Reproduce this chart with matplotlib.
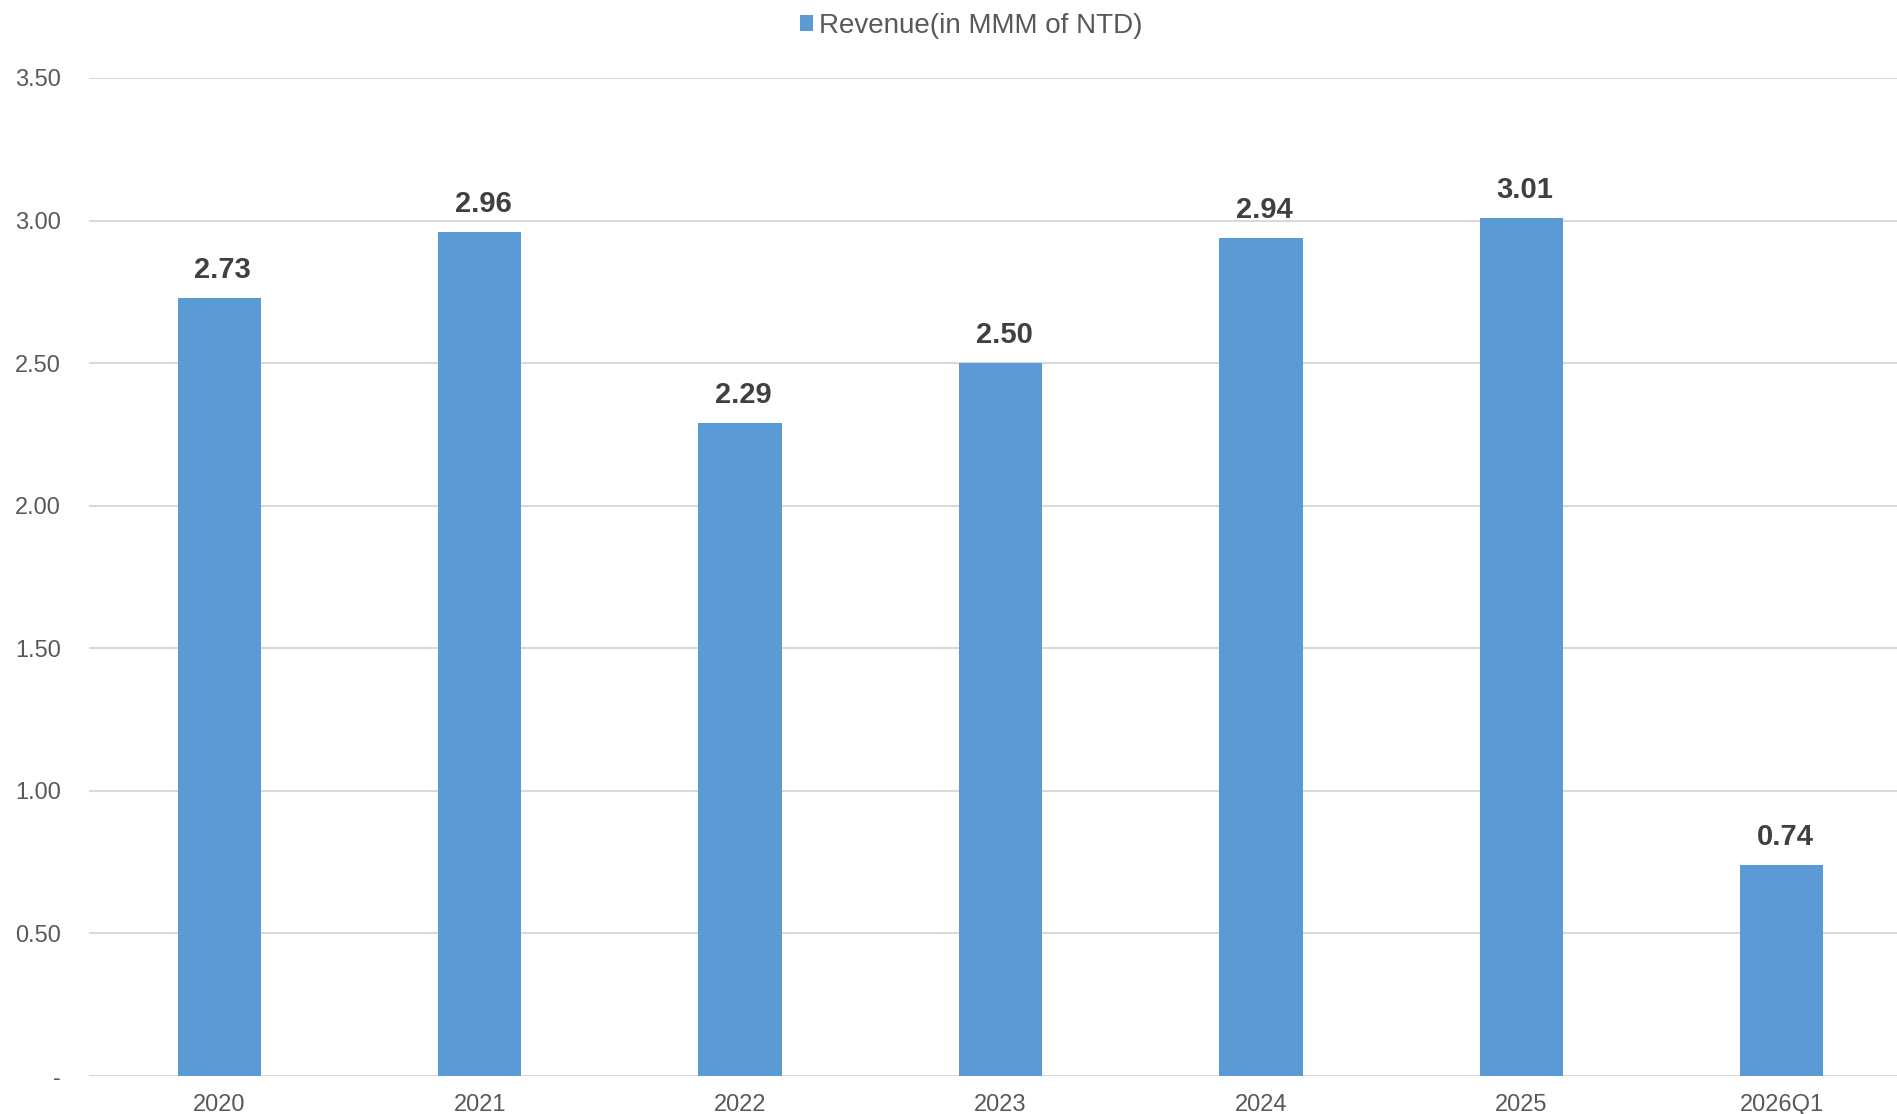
import matplotlib.pyplot as plt
from matplotlib.ticker import FuncFormatter

categories = ["2020", "2021", "2022", "2023", "2024", "2025", "2026Q1"]
revenue = [2.73, 2.96, 2.29, 2.50, 2.94, 3.01, 0.74]
series_name = "Revenue(in MMM of NTD)"

plt.rcParams['font.family'] = ['Liberation Sans', 'DejaVu Sans']

bar_color = "#5B9BD5"
tick_color = "#595959"
label_color = "#404040"
grid_color = "#D9D9D9"

fig = plt.figure(figsize=(18.97, 11.14), dpi=100)
# the plot area runs a little past the right edge of the picture
ax = fig.add_axes([89 / 1897, 1 - 1076 / 1114, (1912 - 89) / 1897, (1076 - 78) / 1114])

x = list(range(len(categories)))
bars = ax.bar(x, revenue, width=0.32, color=bar_color, label=series_name, zorder=3)

for xi, v in zip(x, revenue):
    ax.annotate(f"{v:.2f}", (xi, v), xytext=(2.6, 10), textcoords="offset points",
                ha="center", va="bottom", fontsize=21, fontweight="bold", color=label_color)

ax.set_xlim(-0.5, len(categories) - 0.5)
ax.set_ylim(0, 3.5)
ax.set_yticks([0, 0.5, 1.0, 1.5, 2.0, 2.5, 3.0, 3.5])
ax.yaxis.set_major_formatter(FuncFormatter(lambda v, p: "-" if v == 0 else f"{v:.2f}"))
ax.set_xticks(x, categories)

ax.tick_params(axis="y", length=0, pad=20, labelsize=17, labelcolor=tick_color)
ax.tick_params(axis="x", length=0, pad=13, labelsize=17, labelcolor=tick_color)

for s in ax.spines.values():
    s.set_visible(False)
ax.grid(axis="y", color=grid_color, linewidth=1.5, zorder=0)
ax.set_axisbelow(True)

fig.legend(handles=[bars], labels=[series_name], loc="center", bbox_to_anchor=(971 / 1897, 1 - 26 / 1114),
           frameon=False, fontsize=20, labelcolor=tick_color, handlelength=0.47, handleheight=0.47,
           handletextpad=0.2)

fig.savefig("out.png", dpi=100)
